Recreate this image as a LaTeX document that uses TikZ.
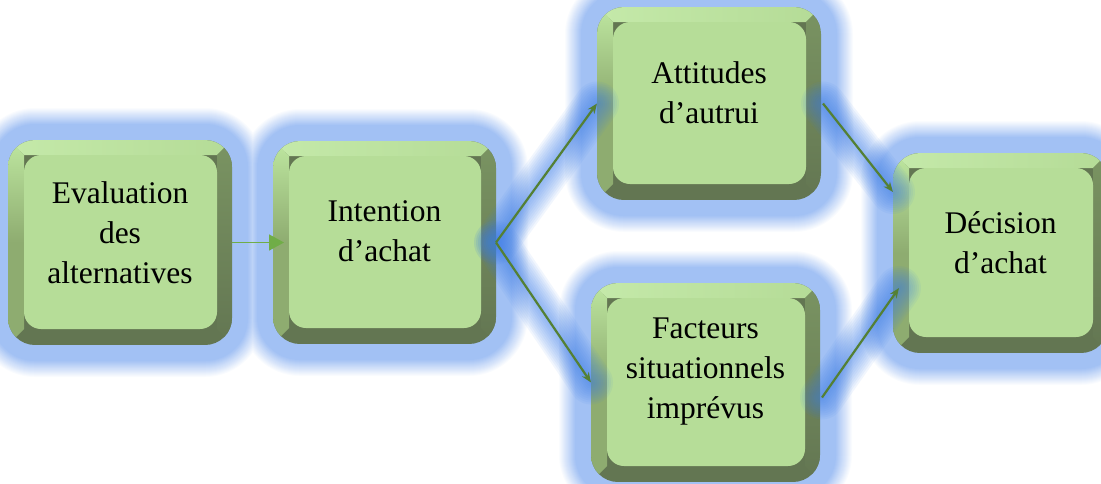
\documentclass[tikz,border=0pt]{standalone}
\usepackage{fontspec}
\setmainfont{Liberation Serif}
\usetikzlibrary{calc,arrows.meta}

\definecolor{glowblue}{RGB}{162,193,244}
\definecolor{arrowglow}{RGB}{60,125,232}
\definecolor{face}{RGB}{182,221,152}
\definecolor{bevtop}{RGB}{190,231,160}
\definecolor{bevleft}{RGB}{142,172,112}
\definecolor{bevright}{RGB}{122,148,98}
\definecolor{bevdark}{RGB}{99,118,82}
\definecolor{linkgreen}{RGB}{84,128,52}
\definecolor{leadgreen}{RGB}{112,173,71}

\tikzset{
  boxframe/.style={draw=none, inner sep=0pt, outer sep=0pt, minimum width=#1},
  boxtext/.style={align=center, inner sep=0pt, font=\fontsize{31.5}{40}\selectfont},
  link/.style={draw=linkgreen, line width=2.2pt, -{Stealth[length=10pt,width=8pt]}},
  leadlink/.style={draw=leadgreen, line width=1.6pt, -{Triangle[length=15pt,width=16pt]}},
  linkglow/.style={draw=arrowglow, opacity=0.07, line cap=round},
}

% bevelled box drawn over the rectangle of a named node
\newcommand\bevelbox[1]{%
  \coordinate (nw) at (#1.north west);
  \coordinate (se) at (#1.south east);
  \coordinate (inw) at ($(nw)+(16,15)$);
  \coordinate (ise) at ($(se)+(-15,-16)$);
  \begin{scope}
    \clip[rounded corners=27pt] (nw) rectangle (se);
    \fill[bevdark] (nw) rectangle (se);
    \shade[left color=bevtop!90!white, right color=bevtop!80!bevleft]
      (nw) -- (nw -| se) -- (inw -| ise) -- (inw) -- cycle;
    \shade[top color=bevtop, bottom color=bevleft, middle color=bevleft]
      (nw) -- (inw) -- (inw |- ise) -- (nw |- se) -- cycle;
    \shade[top color=bevright, bottom color=bevdark]
      (nw -| se) -- (se) -- (ise) -- (inw -| ise) -- cycle;
  \end{scope}
  \fill[face, rounded corners=17pt] (inw) rectangle (ise);
}

\begin{document}
\begin{tikzpicture}[x=1pt,y=-1pt]
  \useasboundingbox (0,0) rectangle (1101,483);
  \clip (0,0) rectangle (1101,483);

  % box positions
  \node[boxframe=224pt, minimum height=205pt] (b1) at (120,242.5) {};
  \node[boxframe=223pt, minimum height=203pt] (b2) at (384.5,242.5) {};
  \node[boxframe=224pt, minimum height=193pt] (b3) at (709,103.5) {};
  \node[boxframe=229pt, minimum height=199pt] (b4) at (705.5,382.5) {};
  \node[boxframe=215pt, minimum height=200pt] (b5) at (1000.5,253) {};

  % soft blue halo around every box
  \foreach \d in {32,31,...,1} {
    \pgfmathtruncatemacro\f{min(100,(33-\d)*100/17)}
    \pgfmathsetmacro\r{27+\d}
    \foreach \b in {b1,b2,b3,b4,b5} {
      \fill[glowblue!\f!white, rounded corners=\r pt]
        ($(\b.north west)+(-\d,-\d)$) rectangle ($(\b.south east)+(\d,\d)$);
    }
  }

  % the boxes
  \foreach \b in {b1,b2,b3,b4,b5} { \bevelbox{\b} }

  % connector end points
  \coordinate (a2) at ($(b2.west)+(11,0)$);
  \coordinate (s4) at ($(b4.east)+(2,15)$);
  \coordinate (e53) at ($(b5.west)+(0,-61)$);
  \coordinate (e54) at ($(b5.west)+(6,35)$);
  \coordinate (s3) at ($(b3.east)+(2,0)$);

  % glow along the connectors
  \foreach \w in {44,40,...,4} {
    \draw[linkglow, line width=\w pt] (b2.east) -- (b3.west);
    \draw[linkglow, line width=\w pt] (b2.east) -- (b4.west);
    \draw[linkglow, line width=\w pt] (s3) -- (e53);
    \draw[linkglow, line width=\w pt] (s4) -- (e54);
  }

  % texts
  \node[boxtext] (t1) at ($(b1.center)+(0,-10)$) {Evaluation\\des\\alternatives};
  \node[boxtext] (t2) at ($(b2.center)+(0,-11)$) {Intention\\d’achat};
  \node[boxtext] (t3) at ($(b3.center)+(0,-11)$) {Attitudes\\d’autrui};
  \node[boxtext] (t4) at ($(b4.center)+(0,-11)$) {Facteurs\\situationnels\\imprévus};
  \node[boxtext] (t5) at ($(b5.center)+(0,-10)$) {Décision\\d’achat};

  % connectors
  \draw[leadlink] (b1.east) -- (a2);
  \draw[link] (b2.east) -- (b3.west);
  \draw[link] (b2.east) -- (b4.west);
  \draw[link] (s3) -- (e53);
  \draw[link] (s4) -- (e54);
\end{tikzpicture}
\end{document}
